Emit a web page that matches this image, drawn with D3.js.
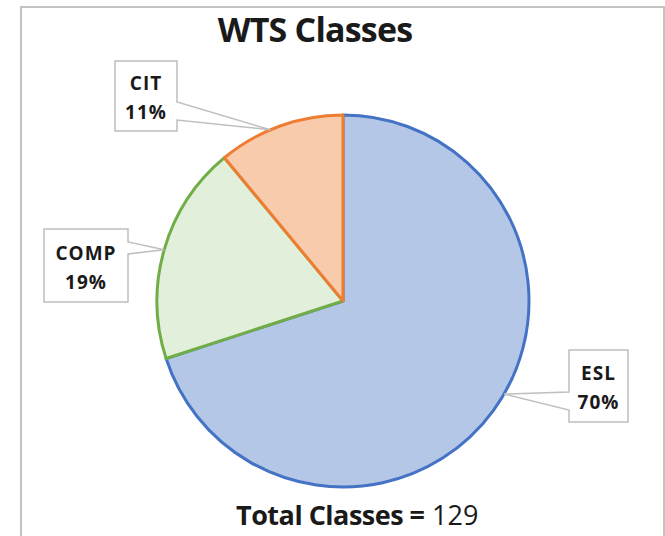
<!DOCTYPE html>
<html>
<head>
<meta charset="utf-8">
<script src="https://cdn.jsdelivr.net/npm/d3@7"></script>
<style>
  body { margin: 0; background: #fff; }
  svg text { font-family: "Open Sans", "Liberation Sans", sans-serif; fill: #1a1a1a; }
</style>
</head>
<body>
<div id="chart"></div>
<script>
// chart data
var categories = ["ESL", "COMP", "CIT"];
var shares = [70, 19, 11];
var totalClasses = 129;
var fills = ["#b4c7e7", "#e2efda", "#f8cbad"];
var strokes = ["#4472c4", "#70ad47", "#ed7d31"];

// callout boxes [x, y, w, h] and where the pointer leaves the box
var callouts = {
    ESL:  { box: [569, 350, 59, 72], base: [392, 410], side: "left" },
    COMP: { box: [44, 229, 84, 73], base: [242, 254], side: "right" },
    CIT:  { box: [115, 61, 62, 70], base: [102, 120], side: "right" }
};
var tipAngle = { ESL: 120, COMP: 286, CIT: 337 };

var width = 665, height = 536;
var cx = 343, cy = 301, radius = 186;

var svg = d3.select("#chart").append("svg")
    .attr("width", width)
    .attr("height", height);

// chart area border
svg.append("rect")
    .attr("x", 21).attr("y", 7)
    .attr("width", 643).attr("height", 560)
    .attr("fill", "#fff")
    .attr("stroke", "#c3c3c3")
    .attr("stroke-width", 2);

svg.append("text")
    .attr("x", 315).attr("y", 42)
    .attr("text-anchor", "middle")
    .attr("font-size", 34)
    .attr("font-weight", "bold")
    .attr("letter-spacing", -0.8)
    .text("WTS Classes");

var pie = d3.pie().sort(null).value(function(d) { return d; });
var arc = d3.arc().innerRadius(0).outerRadius(radius);
var arcs = pie(shares);

var g = svg.append("g").attr("transform", "translate(" + cx + "," + cy + ")");

g.selectAll("path")
    .data(arcs)
    .enter().append("path")
    .attr("d", arc)
    .attr("fill", function(d, i) { return fills[i]; })
    .attr("stroke", function(d, i) { return strokes[i]; })
    .attr("stroke-width", 3)
    .attr("stroke-linejoin", "round");

// callouts
categories.forEach(function(name, i) {
    var c = callouts[name];
    var a = tipAngle[name] * Math.PI / 180;
    var tx = cx + radius * Math.sin(a), ty = cy - radius * Math.cos(a);
    var x = c.box[0], y = c.box[1], w = c.box[2], h = c.box[3];
    var pts;
    if (c.side === "right") {
        pts = [[x, y], [x + w, y], [x + w, c.base[0]], [tx, ty], [x + w, c.base[1]], [x + w, y + h], [x, y + h]];
    } else {
        pts = [[x, y], [x + w, y], [x + w, y + h], [x, y + h], [x, c.base[1]], [tx, ty], [x, c.base[0]]];
    }
    svg.append("path")
        .attr("d", d3.line()(pts) + "Z")
        .attr("fill", "#fff")
        .attr("stroke", "#bfbfbf")
        .attr("stroke-width", 1.5);

    var t = svg.append("text")
        .attr("text-anchor", "middle")
        .attr("font-size", 19)
        .attr("font-weight", "bold")
        .attr("letter-spacing", 1);
    t.append("tspan").attr("x", x + w / 2).attr("y", y + h / 2 - 6).text(name);
    t.append("tspan").attr("x", x + w / 2).attr("y", y + h / 2 + 23).text(shares[i] + "%");
});

var total = svg.append("text")
    .attr("x", 236).attr("y", 525)
    .attr("font-size", 27);
total.append("tspan").attr("font-weight", "bold").attr("letter-spacing", -0.5).text("Total Classes =");
total.append("tspan").attr("x", 432).text(totalClasses);
</script>
</body>
</html>
